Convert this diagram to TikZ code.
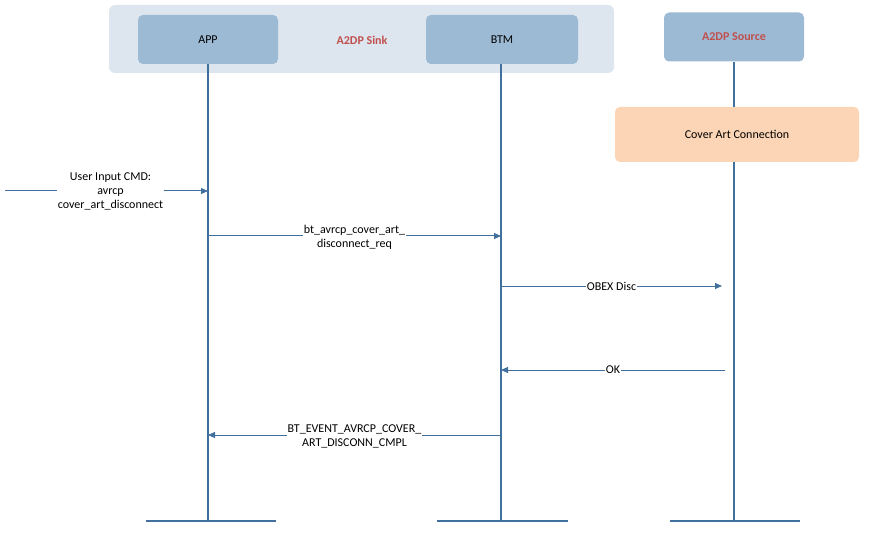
\documentclass[tikz,border=0pt]{standalone}
\usepackage{fontspec}
\setmainfont{Carlito}
\usetikzlibrary{arrows.meta}
\definecolor{ln}{HTML}{41709F}
\definecolor{grp}{HTML}{DDE6EF}
\definecolor{box}{HTML}{9DBAD5}
\definecolor{peach}{HTML}{FBD5B5}
\definecolor{rd}{HTML}{C0504D}
\begin{document}
\begin{tikzpicture}[x=1pt,y=-1pt,
  life/.style={draw=ln,line width=1.2pt},
  msg/.style={draw=ln,line width=1pt,-{Triangle[length=7pt,width=6pt]}},
  lbl/.style={fill=white,inner sep=1pt,align=center,font=\fontsize{12}{14}\selectfont},
  hdr/.style={fill=box,rounded corners=5pt,minimum height=49pt,font=\fontsize{12}{14}\selectfont}]
\useasboundingbox (0,0) rectangle (869,545);
\fill[grp,rounded corners=6pt] (109,5) rectangle (614,73);
\node[hdr,minimum width=140pt] (app) at (208,39.5) {APP};
\node[hdr,minimum width=152pt] (btm) at (502,39.5) {BTM};
\node[hdr,minimum width=140pt,text=rd,font=\bfseries\fontsize{12}{14}\selectfont] (src) at (734,37) {A2DP Source};
\node[text=rd,font=\bfseries\fontsize{12}{14}\selectfont] (sink) at (362,40) {A2DP Sink};
\node[fill=peach,rounded corners=5pt,minimum width=244pt,minimum height=55pt,font=\fontsize{12}{14}\selectfont] (cov) at (737,134.5) {Cover Art Connection};
\coordinate (appb) at (208,521); \coordinate (btmb) at (501,521); \coordinate (srcb) at (734,521);
\draw[life] (app.south) -- (appb);
\draw[life] (btm.south-|btmb) -- (btmb);
\draw[life] (src.south) -- (cov.north-|srcb);
\draw[life] (cov.south-|srcb) -- (srcb);
\draw[life] (146,521) -- (276,521);
\draw[life] (437,521) -- (568,521);
\draw[life] (670,521) -- (800,521);
\coordinate (u0) at (5,191);
\draw[msg] (u0) -- (208,191) node[lbl,pos=0.52] {User Input CMD:\\avrcp\\cover\_art\_disconnect};
\draw[msg] (208,236) -- (501,236) node[lbl,midway,yshift=-1pt] {bt\_avrcp\_cover\_art\_\\disconnect\_req};
\draw[msg] (501,286) -- (722,286) node[lbl,midway] {OBEX Disc};
\draw[msg] (725,370) -- (501,370) node[lbl,midway] {OK};
\draw[msg] (501,435) -- (208,435) node[lbl,midway,yshift=-1pt] {BT\_EVENT\_AVRCP\_COVER\_\\ART\_DISCONN\_CMPL};
\end{tikzpicture}
\end{document}
